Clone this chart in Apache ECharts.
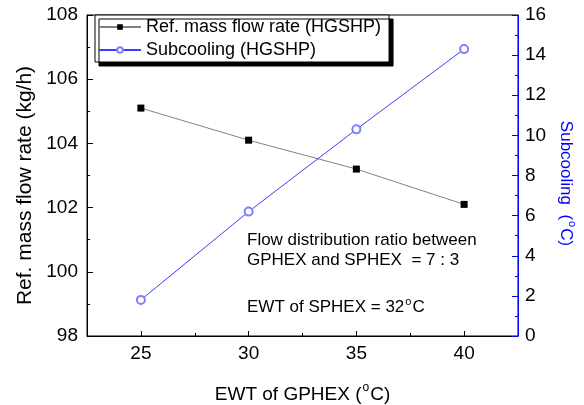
<!DOCTYPE html>
<html><head><meta charset="utf-8">
<script src="https://cdn.jsdelivr.net/npm/echarts@6/dist/echarts.min.js"></script>
<style>html,body{margin:0;padding:0;background:#fff}#c{width:584px;height:405px}</style>
</head><body><div id="c"></div>
<script>
const ewt = [25, 30, 35, 40];
const massFlow = [105.1, 104.1, 103.2, 102.1];
const subcooling = [1.8, 6.2, 10.3, 14.3];
const xMajorTicks = [25, 30, 35, 40];
const xMinorTicks = [27.5, 32.5, 37.5];
const seriesNames = ['Ref. mass flow rate (HGSHP)', 'Subcooling (HGSHP)'];

const font = 'Liberation Sans, Arial, sans-serif';
function supRich(size, color) {
  return {
    n: {fontFamily: font, fontSize: size, color: color, lineHeight: size + 6, verticalAlign: 'middle'},
    s: {fontFamily: font, fontSize: Math.round(size * 0.65), color: color, lineHeight: Math.round(size * 0.65), verticalAlign: 'top', padding: [0, 1, 0, 1]}
  };
}
const chart = echarts.init(document.getElementById('c'));
chart.setOption({
  animation: false,
  grid: {left: 87, right: 66, top: 15, bottom: 69, outerBoundsMode: 'none', containLabel: false, show: true, borderColor: '#000', borderWidth: 1, backgroundColor: 'transparent'},
  legend: {
    orient: 'vertical', left: 95, top: 15,
    backgroundColor: '#fff', borderColor: '#000', borderWidth: 1,
    shadowColor: '#000', shadowBlur: 0, shadowOffsetX: 4, shadowOffsetY: 4,
    padding: [3, 8, 3, 3], itemGap: 5, itemWidth: 42, itemHeight: 7,
    textStyle: {fontFamily: font, fontSize: 18, color: '#000'},
    data: seriesNames
  },
  xAxis: [{
    type: 'value', min: 22.5, max: 42.5,
    name: '{n|EWT of GPHEX (}{s|o}{n|C)}', nameLocation: 'middle', nameGap: 46,
    nameTextStyle: {rich: supRich(19, '#000')},
    axisLine: {lineStyle: {color: '#000'}},
    axisTick: {inside: true, length: 5, customValues: xMajorTicks, lineStyle: {color: '#000'}},
    axisLabel: {customValues: xMajorTicks, fontFamily: font, fontSize: 19, color: '#000', margin: 8},
    splitLine: {show: false}
  }, {
    type: 'value', min: 22.5, max: 42.5, position: 'bottom',
    axisLine: {show: false},
    axisTick: {inside: true, length: 3, customValues: xMinorTicks, lineStyle: {color: '#000'}},
    axisLabel: {show: false},
    splitLine: {show: false}
  }],
  yAxis: [{
    type: 'value', min: 98, max: 108, interval: 2,
    name: 'Ref. mass flow rate (kg/h)', nameLocation: 'middle', nameGap: 50,
    nameTextStyle: {fontFamily: font, fontSize: 21, color: '#000', padding: [0, 20, 0, 0]},
    axisLine: {show: true, lineStyle: {color: '#000'}},
    axisTick: {inside: true, length: 6, lineStyle: {color: '#000'}},
    minorTick: {show: true, splitNumber: 2, length: 3, lineStyle: {color: '#000'}},
    axisLabel: {fontFamily: font, fontSize: 19, color: '#000', margin: 9},
    splitLine: {show: false}
  }, {
    type: 'value', min: 0, max: 16, interval: 2, position: 'right',
    name: '{n|Subcooling  (}{s|o}{n|C)}', nameLocation: 'middle', nameGap: 33, nameRotate: -90,
    nameTextStyle: {rich: supRich(17, '#0000ff'), padding: [0, 0, 0, 16]},
    axisLine: {show: true, lineStyle: {color: '#0000ff'}},
    axisTick: {inside: true, length: 6, lineStyle: {color: '#0000ff'}},
    minorTick: {show: true, splitNumber: 2, length: 3, lineStyle: {color: '#0000ff'}},
    axisLabel: {fontFamily: font, fontSize: 19, color: '#000', margin: 7},
    splitLine: {show: false}
  }],
  series: [{
    name: seriesNames[0], type: 'line', xAxisIndex: 0, yAxisIndex: 0,
    data: ewt.map((x, i) => [x, massFlow[i]]),
    symbol: 'rect', symbolSize: 7,
    lineStyle: {color: '#808080', width: 1},
    itemStyle: {color: '#000'}
  }, {
    name: seriesNames[1], type: 'line', xAxisIndex: 0, yAxisIndex: 1,
    data: ewt.map((x, i) => [x, subcooling[i]]),
    symbol: 'emptyCircle', symbolSize: 8,
    lineStyle: {color: '#3c3cff', width: 1},
    itemStyle: {color: '#8080ff', borderColor: '#8080ff', borderWidth: 1}
  }],
  graphic: [
    {type: 'text', left: 247, top: 232, style: {text: 'Flow distribution ratio between', font: '17px ' + font, fill: '#000'}},
    {type: 'text', left: 247, top: 252, style: {text: 'GPHEX and SPHEX  = 7 : 3', font: '17px ' + font, fill: '#000'}},
    {type: 'text', left: 247, top: 296, style: {
      text: '{n|EWT of SPHEX = 32}{s|o}{n|C}',
      rich: {
        n: {fontFamily: font, fontSize: 17, fill: '#000', lineHeight: 23, verticalAlign: 'middle'},
        s: {fontFamily: font, fontSize: 11, fill: '#000', lineHeight: 11, verticalAlign: 'top', padding: [0, 1, 0, 1]}
      }
    }}
  ]
});
</script></body></html>
